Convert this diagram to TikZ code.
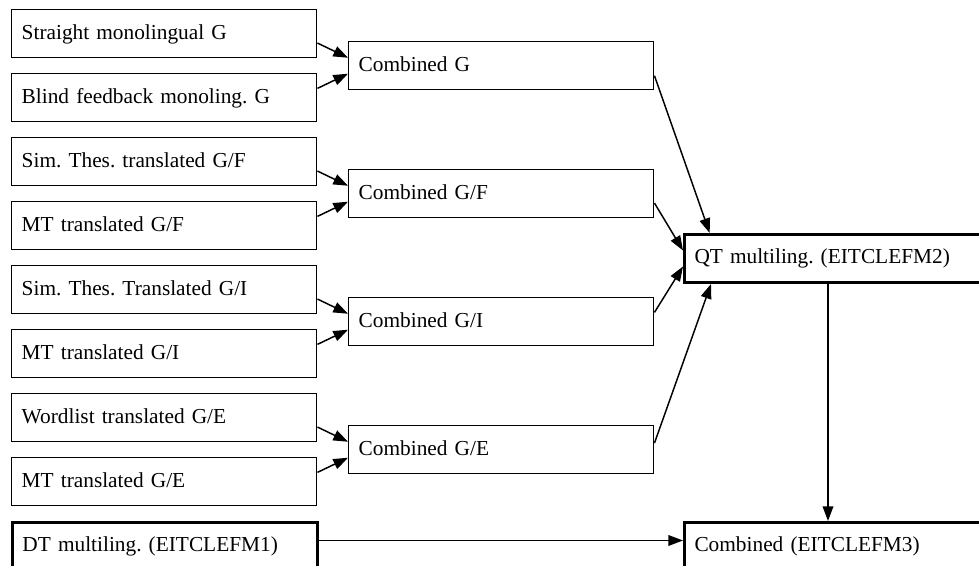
\documentclass[tikz,border=0pt]{standalone}
\usepackage{fontspec}
\setmainfont{Liberation Serif}
\usepackage{tikz}
\usetikzlibrary{arrows.meta}
\tikzset{
  Kasten/.style={draw, line width=1.1pt, anchor=north west, align=left,
    text width=213.75pt, inner xsep=7.5pt, inner ysep=0pt,
    minimum height=36pt, text height=11.5pt, text depth=3.5pt}, % normale Kaesten
  DKasten/.style={Kasten, line width=2.25pt}, % dicke Kaesten
  Verb/.style={line width=1.1pt, ->} % Verbindungen
}
\frenchspacing
\begin{document}
\begin{tikzpicture}[
x=0.75pt, y=-0.75pt,
font=\fontsize{16}{19}\selectfont,
>={Triangle[length=11pt,width=8pt]} % Voreinstellung fuer Pfeilspitzen
]
\useasboundingbox (0,0) rectangle (979,566);

%Einzelne Laeufe
\node[Kasten] (G1)  at (11,9)   {Straight monolingual G};
\node[Kasten] (G2)  at (11,73)  {Blind feedback monoling. G};
\node[Kasten] (GF1) at (11,137) {Sim. Thes. translated G/F};
\node[Kasten] (GF2) at (11,201) {MT translated G/F};
\node[Kasten] (GI1) at (11,265) {Sim. Thes. Translated G/I};
\node[Kasten] (GI2) at (11,329) {MT translated G/I};
\node[Kasten] (GE1) at (11,393) {Wordlist translated G/E};
\node[Kasten] (GE2) at (11,457) {MT translated G/E};
\node[DKasten] (DT) at (11,521) {DT multiling. (EITCLEFM1)};

%Kombinationen
\node[Kasten] (KG)  at (348,41)  {Combined G};
\node[Kasten] (KGF) at (348,169) {Combined G/F};
\node[Kasten] (KGI) at (348,297) {Combined G/I};
\node[Kasten] (KGE) at (348,425) {Combined G/E};

\node[DKasten] (QT) at (683,233) {QT multiling. (EITCLEFM2)};
\node[DKasten] (K3) at (683,521) {Combined (EITCLEFM3)};

%Pfeile
\draw[Verb] ([yshift=-7pt]G1.east)  -- ([yshift=6pt]KG.west);
\draw[Verb] ([yshift=7pt]G2.east)   -- ([yshift=-6pt]KG.west);
\draw[Verb] ([yshift=-7pt]GF1.east) -- ([yshift=6pt]KGF.west);
\draw[Verb] ([yshift=7pt]GF2.east)  -- ([yshift=-6pt]KGF.west);
\draw[Verb] ([yshift=-7pt]GI1.east) -- ([yshift=6pt]KGI.west);
\draw[Verb] ([yshift=7pt]GI2.east)  -- ([yshift=-6pt]KGI.west);
\draw[Verb] ([yshift=-7pt]GE1.east) -- ([yshift=6pt]KGE.west);
\draw[Verb] ([yshift=7pt]GE2.east)  -- ([yshift=-6pt]KGE.west);

\draw[Verb] ([yshift=-7.5pt]KG.east) -- ([xshift=20pt]QT.north west);
\draw[Verb] ([yshift=-7pt]KGF.east)  -- ([yshift=6pt]QT.west);
\draw[Verb] ([yshift=7pt]KGI.east)   -- ([yshift=-6pt]QT.west);
\draw[Verb] ([yshift=5pt]KGE.east)   -- ([xshift=21pt]QT.south west);

\draw[Verb] ([xshift=108.75pt]QT.south west) -- ([xshift=108.75pt]K3.north west);
\draw[Verb] ([yshift=4.5pt]DT.east) -- ([yshift=4.5pt]K3.west);

\end{tikzpicture}
\end{document}
